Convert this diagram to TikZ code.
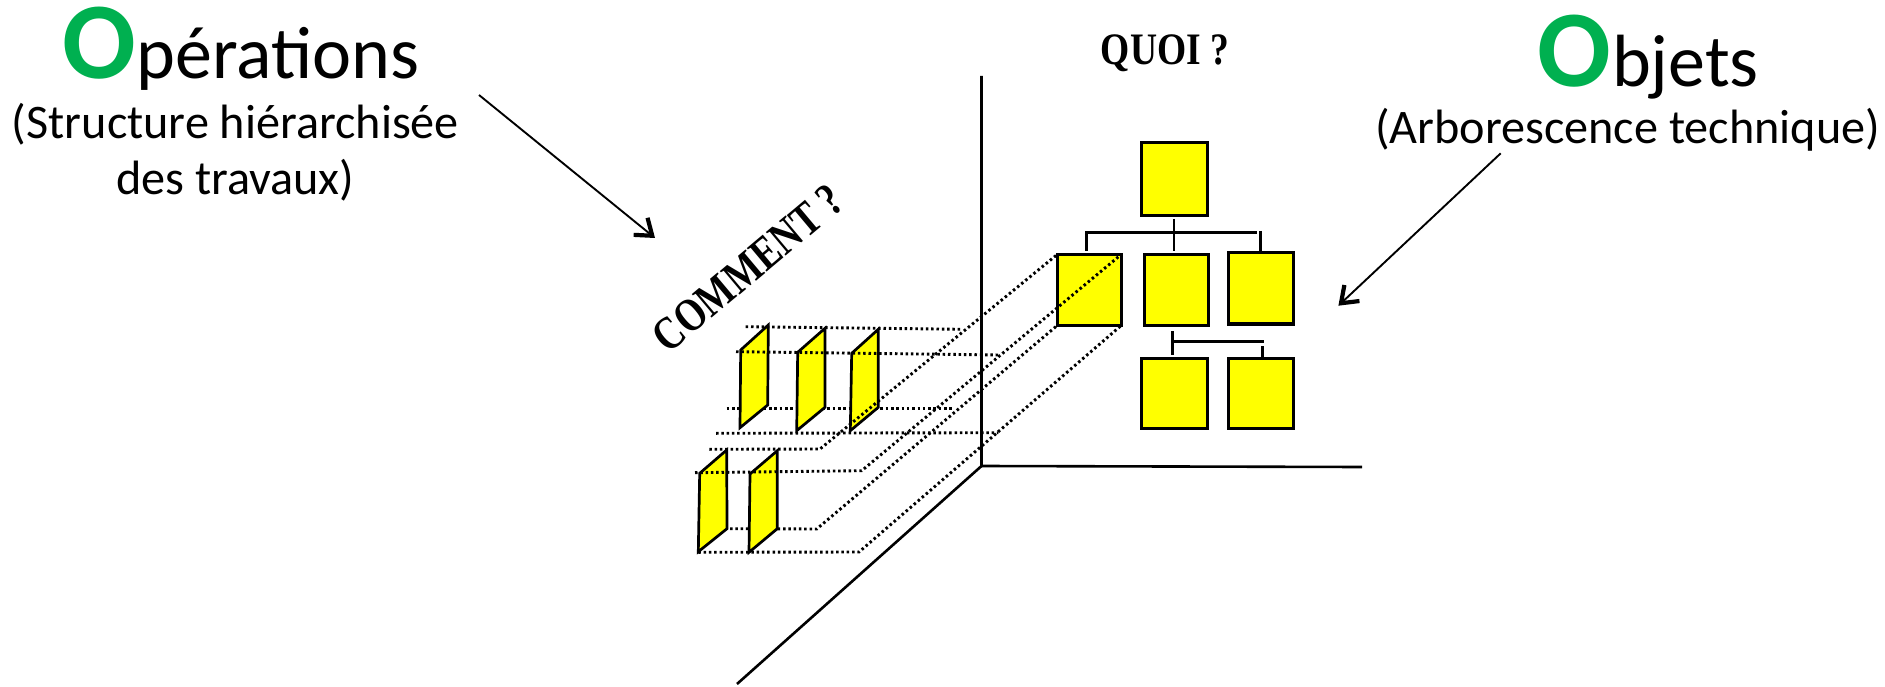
\documentclass[tikz,border=0pt]{standalone}
\usepackage{fontspec}
\setmainfont{Carlito}
\newfontfamily\serifbold{Liberation Serif}[BoldFont={Liberation Serif Bold}]
\usetikzlibrary{arrows.meta}
\definecolor{ogreen}{RGB}{0,176,80}
\definecolor{oyellow}{RGB}{255,255,0}
\tikzset{
  box/.style={draw=black,fill=oyellow,line width=3.1pt,inner sep=0pt,outer sep=0pt},
  plane/.style={draw=black,fill=oyellow,line width=2.7pt,line join=miter},
  axis/.style={line width=2.6pt},
  treeline/.style={line width=2.8pt},
  dots/.style={line width=2.9pt,dash pattern=on 2.5pt off 2.8pt},
  pointer/.style={line width=1.9pt,-{Straight Barb[length=15pt,width=22pt,line width=4.2pt]}},
  lab/.style={anchor=base west,inner sep=0pt,outer sep=0pt,text=black},
  bigO/.style={lab,font=\fontsize{109}{109}\selectfont\bfseries,text=ogreen},
  title/.style={lab,font=\fontsize{74}{74}\selectfont},
  sub/.style={lab,font=\fontsize{48.2}{48.2}\selectfont},
  ask/.style={inner sep=0pt,outer sep=0pt,font=\fontsize{37.5}{37.5}\selectfont\serifbold\bfseries}
}
\begin{document}
\begin{tikzpicture}[x=1pt,y=-1pt]
\useasboundingbox (0,0) rectangle (1885,687);
% axes
\coordinate (origin) at (981.5,466);
\coordinate (axtop) at (981.5,76);
\coordinate (axright) at (1362,467);
\coordinate (axfront) at (737,684);
\draw[axis] (axtop) -- (origin) -- (axright);
\draw[axis] (origin) -- (axfront);
% squares
\node[box,minimum width=66pt,minimum height=73pt] (s0) at (1174.5,179) {};
\node[box,minimum width=64pt,minimum height=71pt] (s1) at (1089.2,290) {};
\node[box,minimum width=64pt,minimum height=71pt] (s2) at (1176.2,290) {};
\node[box,minimum width=65pt,minimum height=71.5pt] (s3) at (1261.2,288.2) {};
\node[box,minimum width=66pt,minimum height=70.5pt] (s4) at (1174.5,393.3) {};
\node[box,minimum width=65.5pt,minimum height=70.5pt] (s5) at (1260.8,393.3) {};
% tree
\coordinate (t0) at (1174,219); \coordinate (t1) at (1174,250.7);
\coordinate (t2) at (1086.7,250.7); \coordinate (t3) at (1086.7,232.7);
\coordinate (t4) at (1256.7,232.7); \coordinate (t5) at (1260.3,231);
\coordinate (t6) at (1260.3,250.7);
\draw[treeline] (t0) -- (t1);
\draw[treeline] (t2) -- (t3) -- (t4);
\draw[treeline] (t5) -- (t6);
\coordinate (u0) at (1172.3,331); \coordinate (u1) at (1172.3,354.5);
\coordinate (u2) at (1172.3,341.7); \coordinate (u3) at (1264,341.7);
\coordinate (u4) at (1262.3,346); \coordinate (u5) at (1262.3,357);
\draw[treeline] (u0) -- (u1);
\draw[treeline] (u2) -- (u3);
\draw[treeline] (u4) -- (u5);
% dotted lines behind the planes
\draw[dots] (726.7,408.3) -- (953.3,408.3);
\draw[dots] (730,528.7) -- (816.7,529) -- (s1.south west);
% planes
\draw[plane] (740.7,350) -- (768.3,325) -- (767.7,405) -- (740,427.7) -- cycle;
\draw[plane] (797.7,352.3) -- (825,328.3) -- (825,407.3) -- (796.7,430.7) -- cycle;
\draw[plane] (851.7,353.3) -- (878.3,329.3) -- (878.3,407.3) -- (850.3,430.7) -- cycle;
\draw[plane] (699.7,473.3) -- (726.7,450) -- (727,528.7) -- (698.3,551.7) -- cycle;
\draw[plane] (750,474) -- (777.3,450.7) -- (777.3,528.7) -- (749,552.3) -- cycle;
% dotted lines in front
\draw[dots] (745.7,326.7) -- (961.7,329.3);
\draw[dots] (736,351.7) -- (1000,355);
\draw[dots] (716,433.3) -- (998.3,432.7);
\draw[dots] (709.3,449.3) -- (820,449) -- (s1.north west);
\draw[dots] (695,472.7) -- (861.7,470.7) -- (s1.north east);
\draw[dots] (698.3,552.3) -- (859,552) -- (s1.south east);
% labels
\node[bigO] (o1) at (62,79) {O};
\node[title] (t1a) at (136.5,78.5) {pérations};
\node[sub] (t1b) at (12,139) {(Structure hiérarchisée};
\node[sub] (t1c) at (116,195) {des travaux)};
\node[bigO] (o2) at (1537,87) {O};
\node[title] (t2a) at (1612,87) {bjets};
\node[sub] (t2b) at (1375,144) {(Arborescence technique)};
\node[ask] (quoi) at (1165,53) {\scalebox{1}[1.2]{QUOI ?}};
\node[ask,rotate=40] (comment) at (748,268) {\scalebox{1}[1.25]{COMMENT ?}};
% pointers
\coordinate (a1) at (479,95); \coordinate (a2) at (655,238);
\coordinate (b1) at (1500.7,153.3); \coordinate (b2) at (1338.4,305.7);
\draw[pointer] (a1) -- (a2);
\draw[pointer] (b1) -- (b2);
\end{tikzpicture}
\end{document}
